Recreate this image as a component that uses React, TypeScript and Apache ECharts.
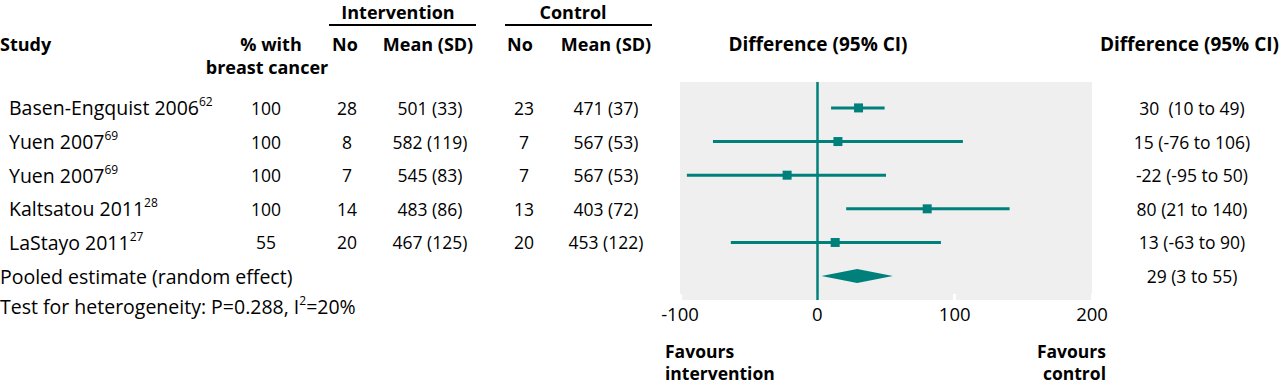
import React, { useEffect, useRef } from "react";
import * as echarts from "echarts";

// ---- data ----
const studies = ["Basen-Engquist 2006", "Yuen 2007", "Yuen 2007", "Kaltsatou 2011", "LaStayo 2011"];
const refs = ["62", "69", "69", "28", "27"];
const pctBreast = ["100", "100", "100", "100", "55"];
const intN = ["28", "8", "7", "14", "20"];
const intMean = ["501 (33)", "582 (119)", "545 (83)", "483 (86)", "467 (125)"];
const ctlN = ["23", "7", "7", "13", "20"];
const ctlMean = ["471 (37)", "567 (53)", "567 (53)", "403 (72)", "453 (122)"];
const diff = [30, 15, -22, 80, 13];
const lower = [10, -76, -95, 21, -63];
const upper = [49, 106, 50, 140, 90];
const diffLabels = ["30  (10 to 49)", "15 (-76 to 106)", "-22 (-95 to 50)", "80 (21 to 140)", "13 (-63 to 90)"];
const pooledLabel = "Pooled estimate (random effect)";
const pooledEst = 29;
const pooledLower = 3;
const pooledUpper = 55;
const pooledDiffLabel = "29 (3 to 55)";
const heterogeneity = ["Test for heterogeneity: P=0.288, I", "2", "=20%"];
const xMin = -100;
const xMax = 200;
const xInterval = 100;

const TEAL = "#00807b";
const FONT = "Open Sans";
const FS_WORD = 19.5;
const FS_NUM = 17.5;
const FS_BOLD = 18;

export default function App() {
  const ref = useRef<HTMLDivElement>(null);

  useEffect(() => {
    const chart = echarts.init(ref.current!, undefined, { renderer: "svg" });
    const yMin = -0.77;
    const yMax = 5.71;

    const rows = diff.map((d, i) => [d, i, lower[i], upper[i]]);

    chart.setOption({
      animation: false,
      grid: {
        left: 680,
        top: 82,
        width: 412,
        height: 218,
        show: true,
        backgroundColor: "#efefef",
        borderWidth: 0,
      },
      xAxis: {
        type: "value",
        position: "bottom",
        min: xMin,
        max: xMax,
        interval: xInterval,
        axisLine: { show: false, onZero: false },
        splitLine: { show: false },
        axisTick: { show: true, inside: true, length: 6, lineStyle: { color: "#ffffff", width: 3 } },
        axisLabel: { color: "#000", fontFamily: FONT, fontSize: 18.5, margin: 4 },
      },
      yAxis: {
        type: "value",
        inverse: true,
        min: yMin,
        max: yMax,
        show: false,
      },
      series: [
        {
          type: "custom",
          data: rows,
          encode: { x: [0, 2, 3], y: 1 },
          renderItem: (params: any, api: any) => {
            const y = api.value(1);
            const p0 = api.coord([api.value(2), y]);
            const p1 = api.coord([api.value(3), y]);
            const pc = api.coord([api.value(0), y]);
            const s = 9;
            return {
              type: "group",
              children: [
                {
                  type: "line",
                  shape: { x1: p0[0], y1: p0[1], x2: p1[0], y2: p1[1] },
                  style: { stroke: TEAL, lineWidth: 3 },
                },
                {
                  type: "rect",
                  shape: { x: pc[0] - s / 2, y: pc[1] - s / 2, width: s, height: s },
                  style: { fill: TEAL },
                },
              ],
            };
          },
          markLine: {
            silent: true,
            symbol: ["none", "none"],
            label: { show: false },
            lineStyle: { color: TEAL, width: 2.5, type: "solid" },
            data: [{ xAxis: 0 }],
          },
          z: 3,
        },
        {
          type: "custom",
          data: [[pooledEst, 5, pooledLower, pooledUpper]],
          encode: { x: [0, 2, 3], y: 1 },
          renderItem: (params: any, api: any) => {
            const y = api.value(1);
            const pl = api.coord([api.value(2), y]);
            const pr = api.coord([api.value(3), y]);
            const pc = api.coord([api.value(0), y]);
            const h = 7;
            return {
              type: "polygon",
              shape: {
                points: [
                  [pl[0], pl[1]],
                  [pc[0], pc[1] - h],
                  [pr[0], pr[1]],
                  [pc[0], pc[1] + h],
                ],
              },
              style: { fill: TEAL },
            };
          },
          z: 3,
        },
      ],
    });

    const rowY = (i: number) => chart.convertToPixel({ yAxisIndex: 0 }, i) as number;

    const word = { fontFamily: FONT, fontSize: FS_WORD, fill: "#000" };
    const num = { fontFamily: FONT, fontSize: FS_NUM, fill: "#000" };
    const bold = { fontFamily: FONT, fontSize: FS_BOLD, fill: "#000", fontWeight: "bold" };
    const txt = (x: number, y: number, text: string, align: string, style: any = num) => ({
      type: "text",
      x,
      y,
      style: { ...style, text, align, verticalAlign: "middle" },
    });
    const richStyle = {
      n: { fontFamily: FONT, fontSize: FS_WORD, lineHeight: 24, fill: "#000" },
      s: { fontFamily: FONT, fontSize: 12, lineHeight: 14, verticalAlign: "top", fill: "#000" },
    };

    const els: any[] = [];
    // headers
    els.push(txt(398, 12, "Intervention", "center", bold));
    els.push(txt(573, 12, "Control", "center", bold));
    els.push({ type: "line", shape: { x1: 329, y1: 25, x2: 476, y2: 25 }, style: { stroke: "#000", lineWidth: 2 } });
    els.push({ type: "line", shape: { x1: 505, y1: 25, x2: 652, y2: 25 }, style: { stroke: "#000", lineWidth: 2 } });
    els.push(txt(0, 44, "Study", "left", bold));
    els.push(txt(271, 44, "% with", "center", bold));
    els.push(txt(267, 67, "breast cancer", "center", bold));
    els.push(txt(345, 44, "No", "center", bold));
    els.push(txt(428, 44, "Mean (SD)", "center", bold));
    els.push(txt(520, 44, "No", "center", bold));
    els.push(txt(606, 44, "Mean (SD)", "center", bold));
    els.push(txt(818, 44, "Difference (95% CI)", "center", { ...bold, fontSize: 19 }));
    els.push(txt(1279, 44, "Difference (95% CI)", "right", { ...bold, fontSize: 19 }));

    studies.forEach((s, i) => {
      const y = rowY(i);
      els.push({
        type: "text",
        x: 9,
        y,
        style: {
          text: `{n|${s}}{s|${refs[i]}}`,
          rich: richStyle,
          align: "left",
          verticalAlign: "middle",
        },
      });
      els.push(txt(266, y, pctBreast[i], "center"));
      els.push(txt(347, y, intN[i], "center"));
      els.push(txt(430, y, intMean[i], "center"));
      els.push(txt(524, y, ctlN[i], "center"));
      els.push(txt(606, y, ctlMean[i], "center"));
      els.push(txt(1192, y, diffLabels[i], "center"));
    });
    const py = rowY(5);
    els.push(txt(0, py, pooledLabel, "left", word));
    els.push(txt(1192, py, pooledDiffLabel, "center"));
    els.push({
      type: "text",
      x: 0,
      y: 306,
      style: {
        text: `{n|${heterogeneity[0]}}{s|${heterogeneity[1]}}{n|${heterogeneity[2]}}`,
        rich: richStyle,
        align: "left",
        verticalAlign: "middle",
      },
    });
    const fav = { ...bold, fontSize: 17.5 };
    els.push(txt(665, 351, "Favours", "left", fav));
    els.push(txt(665, 373, "intervention", "left", fav));
    els.push(txt(1106, 351, "Favours", "right", fav));
    els.push(txt(1106, 373, "control", "right", fav));

    chart.setOption({ graphic: { elements: els } });

    return () => chart.dispose();
  }, []);

  return (
    <div
      ref={ref}
      style={{ position: "absolute", left: 0, top: 0, width: 1280, height: 384, background: "#fff" }}
    />
  );
}
